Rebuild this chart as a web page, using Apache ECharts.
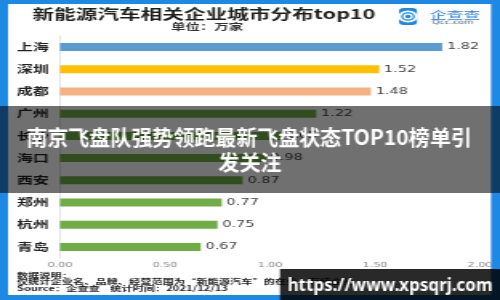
<!DOCTYPE html>
<html><head><meta charset="utf-8">
<script src="https://cdn.jsdelivr.net/npm/echarts@6/dist/echarts.min.js"></script>
<style>
html,body{margin:0;padding:0;background:#1e88e5;overflow:hidden;width:500px;height:300px}
#c{width:312px;height:300px;transform:scaleX(1.6026);transform-origin:0 0;}
</style></head><body><div id="c"></div>
<script>
// ---- data ----
const cities = ['上海','深圳','成都','广州','长沙','海口','西安','郑州','杭州','青岛'];
const values = [1.82, 1.52, 1.48, 1.22, 1.05, 0.98, 0.87, 0.77, 0.75, 0.67];
const barColors = ['#5b9bd5','#ffc000','#f4b183','#70ad47','#70ad47','#70ad47','#70ad47','#70ad47','#70ad47','#70ad47'];
const xMin = 0, xMax = 2, xStep = 0.5;
const titleText = '新能源汽车相关企业城市分布top10';
const subtitleText = '单位：万家';
const noteLines = ['数据说明：', '仅统计企业名、品牌、经营范围为“新能源汽车”的在业、存续企业', 'Source：企查查    统计时间：2021/12/13'];
const bannerLines = ['南京飞盘队强势领跑最新飞盘状态TOP10榜单引', '发关注'];
const watermark = 'https://www.xpsqrj.com';

const S = 500 / 312;           // horizontal stretch of the whole picture
const X = a => a / S;          // page px -> chart px
const CJK = '"Noto Sans CJK SC", "Noto Sans", sans-serif';

const chart = echarts.init(document.getElementById('c'), null, {renderer: 'canvas'});

const graphics = [
  {type:'rect', z:-10, shape:{x:X(8), y:4, width:X(491-8), height:291}, style:{fill:'#ffffff'}},
  {type:'text', z:10, x:X(204), y:14, style:{text:titleText, fill:'#1f1f1f', font:'bold 13.5px ' + CJK, textAlign:'center', textVerticalAlign:'middle'}},
  {type:'text', z:10, x:X(207), y:27, style:{text:subtitleText, fill:'#333', font:'bold 9px ' + CJK, textAlign:'center', textVerticalAlign:'middle'}},
  {type:'rect', z:10, shape:{x:X(399), y:8, width:X(18), height:17, r:3}, style:{fill:'#1e88e5'}},
  {type:'circle', z:11, shape:{cx:X(408), cy:16.5, r:5.2}, style:{fill:'none', stroke:'#fff', lineWidth:1.8}},
  {type:'circle', z:11, shape:{cx:X(408), cy:16.5, r:2.4}, style:{fill:'none', stroke:'#fff', lineWidth:1.3}},
  {type:'text', z:10, x:X(430), y:15, style:{text:'企查查', fill:'#2a7de1', font:'10.5px ' + CJK, textAlign:'left', textVerticalAlign:'middle'}},
  {type:'text', z:10, x:X(432), y:22.5, style:{text:'Qcc.com', fill:'#4a6a90', font:'6px "DejaVu Sans", sans-serif', textAlign:'left', textVerticalAlign:'middle'}},
  {type:'text', z:10, x:X(17), y:275, style:{text:noteLines[0], fill:'#222', font:'bold 7px ' + CJK, textAlign:'left', textVerticalAlign:'middle'}},
  {type:'text', z:10, x:X(17), y:281.5, style:{text:noteLines[1], fill:'#222', font:'bold 7px ' + CJK, textAlign:'left', textVerticalAlign:'middle'}},
  {type:'text', z:10, x:X(17), y:288.5, style:{text:noteLines[2], fill:'#222', font:'bold 7px ' + CJK, textAlign:'left', textVerticalAlign:'middle'}},
  {type:'rect', z:100, shape:{x:0, y:106, width:312, height:87}, style:{fill:'rgba(0,0,0,0.56)'}},
  {type:'text', z:101, x:X(249), y:137, scaleX:1/S, style:{text:bannerLines[0], fill:'#fff', font:'bold 21px ' + CJK, textAlign:'center', textVerticalAlign:'middle'}},
  {type:'text', z:101, x:X(250), y:162, scaleX:1/S, style:{text:bannerLines[1], fill:'#fff', font:'bold 21px ' + CJK, textAlign:'center', textVerticalAlign:'middle'}},
  {type:'rect', z:100, shape:{x:X(280), y:269, width:X(220), height:31}, style:{fill:'rgba(0,0,0,0.84)'}},
  {type:'text', z:101, x:X(390), y:286, scaleX:1/S, style:{text:watermark, fill:'#fff', font:'bold 17px "Noto Sans", "DejaVu Sans", sans-serif', textAlign:'center', textVerticalAlign:'middle'}}
];

chart.setOption({
  backgroundColor: '#1e88e5',
  animation: false,
  grid: {left: X(60), right: 312 - X(480), top: 36, bottom: 42, containLabel: false, outerBoundsMode: 'none'},
  xAxis: {
    type: 'value', min: xMin, max: xMax, interval: xStep,
    axisLine: {show: false}, axisTick: {show: false}, splitLine: {show: false},
    axisLabel: {fontSize: 7, color: '#888', margin: 4, formatter: v => v.toFixed(2), fontFamily: '"DejaVu Sans", sans-serif'}
  },
  yAxis: {
    type: 'category', data: cities, inverse: true,
    axisLine: {show: true, lineStyle: {color: '#e4e4e4', width: 1}},
    axisTick: {show: false},
    axisLabel: {fontSize: 10, fontWeight: 'bold', color: '#222', margin: 7, fontFamily: CJK}
  },
  series: [{
    type: 'bar', barWidth: 8,
    data: values.map((v, i) => ({value: v, itemStyle: {color: barColors[i]}})),
    label: {show: true, position: 'right', distance: 3, fontSize: 9, color: '#444',
            fontFamily: '"DejaVu Sans", sans-serif', formatter: p => p.value.toFixed(2)}
  }],
  graphic: graphics
});
</script></body></html>
